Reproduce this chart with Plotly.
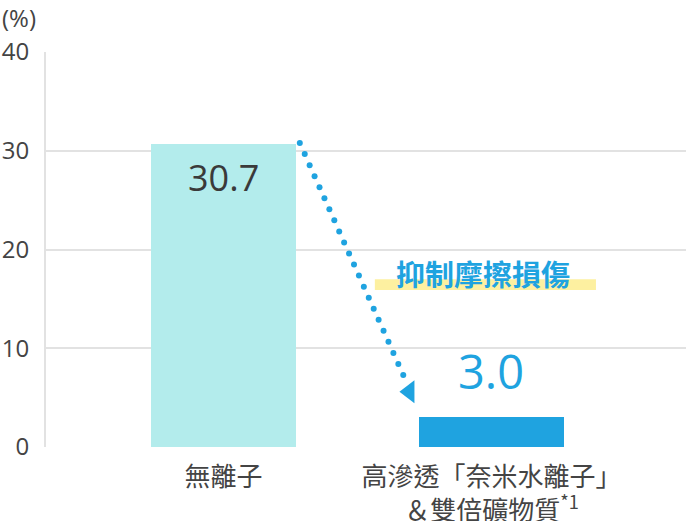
import plotly.graph_objects as go

categories = ["無離子", "高滲透「奈米水離子」<br>＆雙倍礦物質<sup>*1</sup>"]
values = [30.7, 3.0]
value_labels = ["30.7", "3.0"]
bar_colors = ["#b3ecec", "#1fa3e0"]
y_ticks = [0, 10, 20, 30, 40]
highlight_text = "抑制摩擦損傷"
unit_text = "(%)"

xpos = list(range(len(values)))
bw = 0.541
CJK = "Noto Sans CJK TC"
NUM = "Open Sans"

fig = go.Figure()
fig.add_trace(go.Bar(
    x=xpos, y=values, width=bw,
    marker=dict(color=bar_colors, line=dict(width=0)),
    hoverinfo="skip", showlegend=False,
))

# dotted arrow from top of first bar down toward second bar
x0 = xpos[0] + 0.285
y0 = values[0] + 0.08
x1 = xpos[1] - 0.329
y1 = values[1] + 4.29
n = 22
dots_x = [x0 + (x1 - x0) * i / (n - 1) for i in range(n)]
dots_y = [y0 + (y1 - y0) * i / (n - 1) for i in range(n)]
fig.add_trace(go.Scatter(
    x=dots_x, y=dots_y, mode="markers",
    marker=dict(color="#1fa3e0", size=6, line=dict(width=0)),
    hoverinfo="skip", showlegend=False,
))
fig.add_trace(go.Scatter(
    x=[xpos[1] - 0.306], y=[values[1] + 2.6], mode="markers",
    marker=dict(color="#1fa3e0", size=20, symbol="triangle-left", line=dict(width=0)),
    hoverinfo="skip", showlegend=False,
))

# yellow highlight band
fig.add_shape(type="rect", xref="x", yref="y",
              x0=0.565, x1=1.390, y0=15.9, y1=17.0,
              fillcolor="#fdf0a0", line=dict(width=0), layer="below")

fig.add_annotation(x=0.968, y=17.6, xref="x", yref="y", text=highlight_text,
                   showarrow=False, font=dict(family=CJK, size=29, color="#1fa3e0", weight="bold"))

# value labels
fig.add_annotation(x=xpos[0], y=values[0] - 3.4, xref="x", yref="y", text=value_labels[0],
                   showarrow=False, font=dict(family=NUM, size=36, color="#3a3a3a"))
fig.add_annotation(x=xpos[1], y=values[1] + 4.7, xref="x", yref="y", text=value_labels[1],
                   showarrow=False, font=dict(family=NUM, size=47, color="#1fa3e0"))

fig.add_annotation(x=-46 / 640, y=(447 - 18) / 395, xref="paper", yref="paper",
                   text=unit_text, showarrow=False, xanchor="left", yanchor="middle",
                   font=dict(family=NUM, size=24, color="#444444"))

fig.update_layout(
    width=686, height=521, autosize=False,
    margin=dict(l=46, r=0, t=52, b=74),
    paper_bgcolor="white", plot_bgcolor="white",
    bargap=0,
    xaxis=dict(range=[-0.662, 1.726], tickvals=xpos, ticktext=categories,
               showgrid=False, zeroline=False, showline=False, ticks="",
               ticklabelstandoff=12, automargin=False,
               tickfont=dict(family=CJK, size=26, color="#444444")),
    yaxis=dict(range=[0, 40], tickvals=y_ticks, showgrid=True, gridcolor="#e2e2e2", gridwidth=2,
               zeroline=False, showline=True, linecolor="#e2e2e2", linewidth=2, ticks="",
               ticklabelstandoff=10, automargin=False,
               tickfont=dict(family=NUM, size=24, color="#444444")),
)

fig.write_html("out.html", config={"displayModeBar": False},
               post_script="document.body.style.margin='0';")
